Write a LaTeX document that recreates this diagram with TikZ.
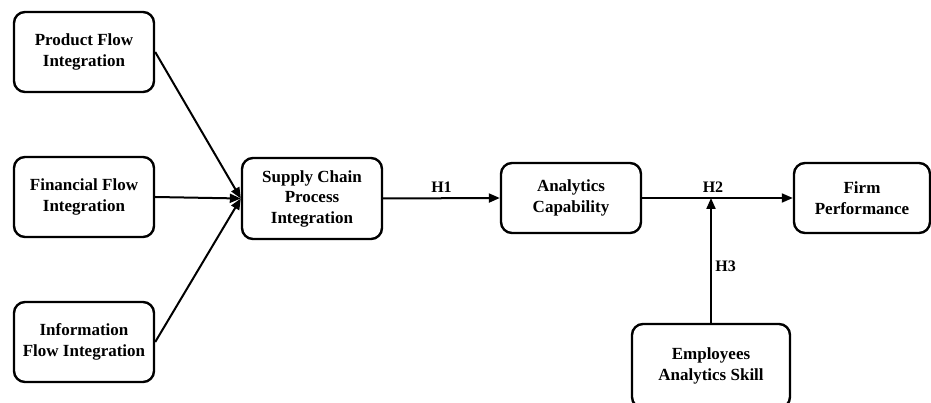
\documentclass[tikz,border=0pt]{standalone}
\usepackage{fontspec}
\setmainfont{Liberation Serif}
\usetikzlibrary{arrows.meta}
\tikzset{
  construct/.style={draw, line width=2.4pt, rounded corners=11pt, align=center,
    minimum width=140pt, minimum height=80pt, inner sep=0pt,
    font=\fontsize{17}{20.5}\selectfont\bfseries},
  link/.style={line width=2pt, -{Triangle[length=11pt,width=9pt]}},
  hyp/.style={font=\fontsize{16}{18}\selectfont\bfseries}
}
\begin{document}
\begin{tikzpicture}[x=1pt,y=-1pt]
    \useasboundingbox (0,0) rectangle (931,403);
    \node[construct] (prod) at (84,52) {Product Flow\\Integration};
    \node[construct] (fin) at (84,197) {Financial Flow\\Integration};
    \node[construct] (info) at (84,342) {Information\\Flow Integration};
    \node[construct, minimum height=81pt] (scpi) at (312,198.5)
    {Supply Chain\\Process\\Integration};
    \node[construct, minimum height=70pt] (ac) at (571,198)
    {Analytics\\Capability};
    \node[construct, minimum height=70pt, minimum width=136pt] (firm) at (862,198)
    {Firm\\Performance};
    \node[construct, minimum width=158pt, minimum height=84pt] (emp) at (711,366)
    {Employees\\Analytics Skill};
    \coordinate (j) at (emp.north |- ac.east);

    \path[link] (prod.east) edge (scpi.west); \path[link] (fin.east) edge
    (scpi.west); \path[link] (info.east) edge (scpi.west);
    \path[link] (scpi.east) edge node[hyp, above=1pt] {H1} (ac.west);
    \path[link] (ac.east) edge node[hyp, above=1pt, pos=0.47] {H2} (firm.west);
    \path[link] (emp.north) edge node[hyp, right=0pt, pos=0.45] {H3} (j);
\end{tikzpicture}
\end{document}
